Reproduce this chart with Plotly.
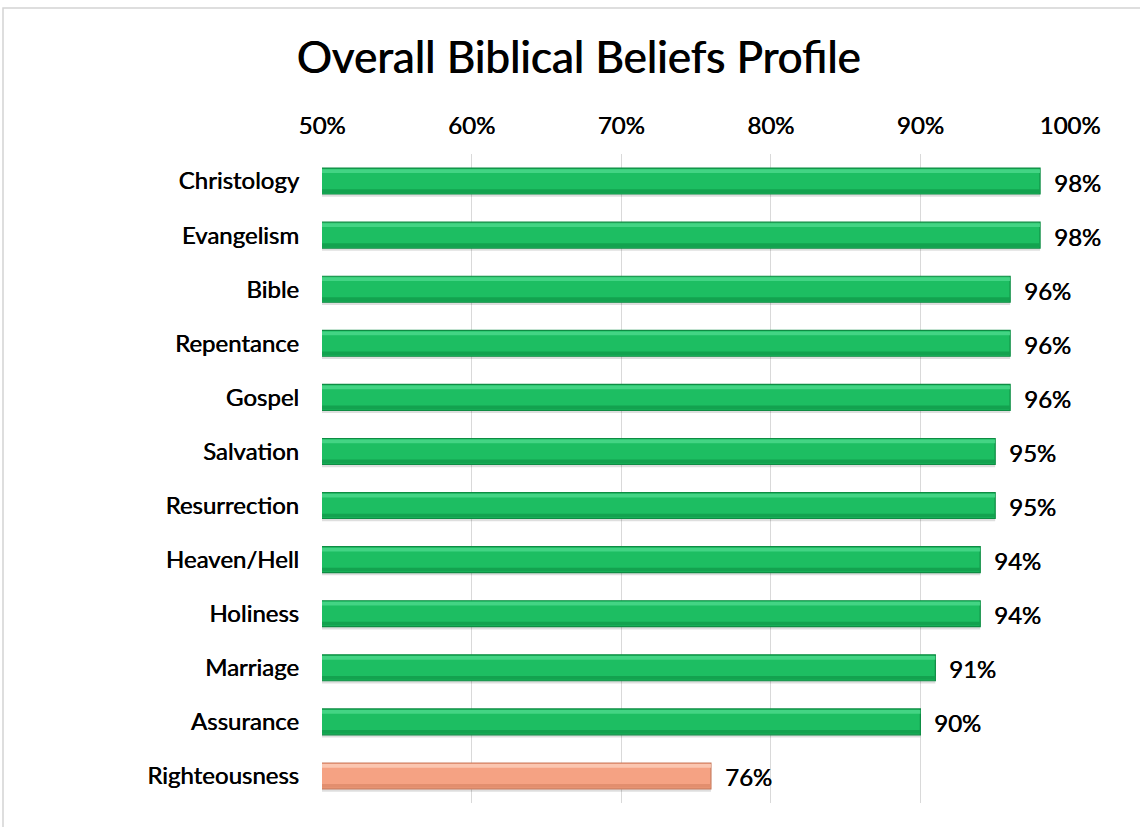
import plotly.graph_objects as go

# Share of respondents holding each biblical belief (percent)
categories = ["Christology", "Evangelism", "Bible", "Repentance", "Gospel",
              "Salvation", "Resurrection", "Heaven/Hell", "Holiness",
              "Marriage", "Assurance", "Righteousness"]
values = [98, 98, 96, 96, 96, 95, 95, 94, 94, 91, 90, 76]
tick_vals = [50, 60, 70, 80, 90, 100]
tick_text = ["50%", "60%", "70%", "80%", "90%", "100%"]

FONT = "Lato, Carlito, Calibri, sans-serif"
HEAVY = "0.5px 0 0 #000000"   # thickens the strokes a touch
W, H = 1140, 827
L, R, T, B = 322, 70, 154, 24

low = [v < 80 for v in values]
fill = ["#F5A283" if lo else "#1DBE62" for lo in low]
edge = ["#C97D60" if lo else "#0E8C43" for lo in low]
shine = ["#FBCDB9" if lo else "#4AD88A" for lo in low]
dark = ["#E08C6C" if lo else "#12A04E" for lo in low]

BW = 0.48
fig = go.Figure()
# soft drop shadow under each bar
fig.add_trace(go.Bar(
    y=categories, x=values, orientation="h", width=BW, offset=-BW / 2 + 0.05,
    marker=dict(color="rgba(0,0,0,0.13)", line=dict(width=0)), hoverinfo="skip",
))
# main bar body
fig.add_trace(go.Bar(
    y=categories, x=values, orientation="h", width=BW, offset=-BW / 2,
    marker=dict(color=fill, line=dict(color=edge, width=1.2)), hoverinfo="skip",
))
# bevel: light strip on top, darker strip at the bottom
fig.add_trace(go.Bar(
    y=categories, x=values, orientation="h", width=0.07, offset=-BW / 2 + 0.02,
    marker=dict(color=shine, line=dict(width=0)), opacity=0.85, hoverinfo="skip",
))
fig.add_trace(go.Bar(
    y=categories, x=values, orientation="h", width=0.07, offset=BW / 2 - 0.09,
    marker=dict(color=dark, line=dict(width=0)), opacity=0.9, hoverinfo="skip",
))

# value labels just past the end of each bar
for c, v in zip(categories, values):
    fig.add_annotation(x=v, y=c, text=f"{v}%", showarrow=False, xanchor="left",
                       xshift=12, yshift=-1,
                       font=dict(family=FONT, size=24, color="#000000", shadow=HEAVY))

pw, ph = W - L - R, H - T - B
fig.add_shape(type="rect", xref="paper", yref="paper",
              x0=(3 - L) / pw, x1=(W + 20 - L) / pw,
              y0=-40 / ph, y1=(H - B - 8) / ph,
              line=dict(color="#D4D4D4", width=1.5), layer="below")

fig.update_layout(
    width=W, height=H, barmode="overlay", showlegend=False,
    margin=dict(l=L, r=R, t=T, b=B, pad=0),
    paper_bgcolor="white", plot_bgcolor="white",
    title=dict(text="Overall Biblical Beliefs Profile", x=(295 + 862) / 2 / W,
               xanchor="center", y=1 - 58 / H, yanchor="middle",
               font=dict(family=FONT, size=44, color="#000000", shadow="0.8px 0 0 #000000")),
    xaxis=dict(range=[50, 100], side="top", tickvals=tick_vals, ticktext=tick_text,
               showgrid=True, gridcolor="#D9D9D9", gridwidth=1.2, zeroline=False,
               showline=False, ticks="", ticklabelstandoff=14,
               tickfont=dict(family=FONT, size=24, color="#000000", shadow=HEAVY)),
    yaxis=dict(categoryorder="array", categoryarray=categories, autorange="reversed",
               showgrid=False, showline=False, ticks="", ticklabelstandoff=22,
               tickfont=dict(family=FONT, size=24, color="#000000", shadow=HEAVY)),
    font=dict(family=FONT),
)

fig.write_html("out.html")
